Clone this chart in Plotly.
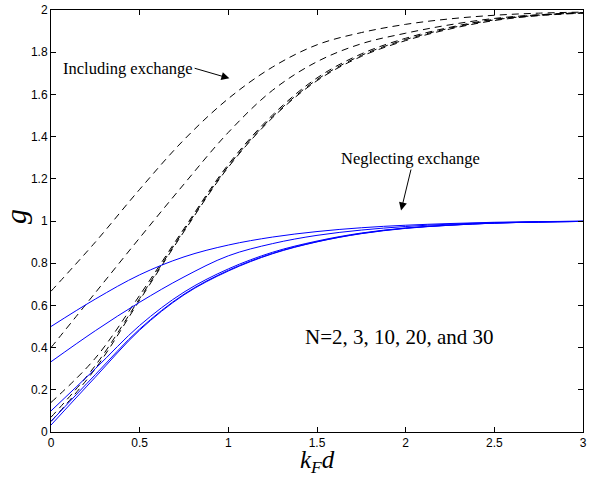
import plotly.graph_objects as go

# x sample positions (k_F d)
x_vals = [0, 0.25, 0.5, 0.75, 1.0, 1.25, 1.5, 1.75, 2.0, 2.25, 2.5, 2.75, 3.0]

# Including exchange (dashed), N = 2, 3, 10, 20, 30
inc_N2 = [0.667, 0.90, 1.15, 1.385, 1.58, 1.73, 1.835, 1.893, 1.932, 1.958, 1.975, 1.985, 1.99]
inc_N3 = [0.40, 0.66, 0.92, 1.175, 1.42, 1.62, 1.755, 1.84, 1.89, 1.93, 1.96, 1.977, 1.986]
inc_N10 = [0.14, 0.35, 0.648, 0.964, 1.268, 1.503, 1.678, 1.792, 1.866, 1.918, 1.956, 1.977, 1.988]
inc_N20 = [0.07, 0.315, 0.633, 0.956, 1.26, 1.495, 1.67, 1.785, 1.86, 1.914, 1.953, 1.975, 1.987]
inc_N30 = [0.05, 0.30, 0.625, 0.95, 1.255, 1.49, 1.665, 1.78, 1.855, 1.91, 1.95, 1.973, 1.985]

# Neglecting exchange (solid blue), N = 2, 3, 10, 20, 30
neg_N2 = [0.5, 0.63, 0.745, 0.83, 0.886, 0.924, 0.95, 0.968, 0.98, 0.988, 0.994, 0.997, 0.999]
neg_N3 = [0.333, 0.48, 0.615, 0.735, 0.835, 0.893, 0.932, 0.957, 0.974, 0.985, 0.992, 0.996, 0.999]
neg_N10 = [0.10, 0.30, 0.505, 0.663, 0.773, 0.852, 0.905, 0.943, 0.967, 0.981, 0.99, 0.995, 0.998]
neg_N20 = [0.05, 0.272, 0.488, 0.653, 0.766, 0.847, 0.902, 0.941, 0.966, 0.98, 0.99, 0.995, 0.998]
neg_N30 = [0.033, 0.26, 0.483, 0.65, 0.763, 0.845, 0.901, 0.94, 0.965, 0.98, 0.99, 0.995, 0.998]

x_ticks = [0, 0.5, 1, 1.5, 2, 2.5, 3]
x_tick_labels = ["0", "0.5", "1", "1.5", "2", "2.5", "3"]
y_ticks = [0, 0.2, 0.4, 0.6, 0.8, 1.0, 1.2, 1.4, 1.6, 1.8, 2.0]
y_tick_labels = ["0", "0.2", "0.4", "0.6", "0.8", "1", "1.2", "1.4", "1.6", "1.8", "2"]

fig = go.Figure()

for ys in [inc_N2, inc_N3, inc_N10, inc_N20, inc_N30]:
    fig.add_trace(go.Scatter(x=x_vals, y=ys, mode="lines",
                             line=dict(color="black", width=1, dash="7px,5px", shape="spline", smoothing=1.0),
                             showlegend=False, hoverinfo="skip"))
for ys in [neg_N2, neg_N3, neg_N10, neg_N20, neg_N30]:
    fig.add_trace(go.Scatter(x=x_vals, y=ys, mode="lines",
                             line=dict(color="rgb(0,0,255)", width=1, shape="spline", smoothing=1.0),
                             showlegend=False, hoverinfo="skip"))

serif = "Liberation Serif, Times New Roman, serif"
sans = "Liberation Sans, Arial, sans-serif"

annotations = [
    dict(x=1.006, y=1.676, xref="x", yref="y", ax=0.81, ay=1.724, axref="x", ayref="y",
         text="Including exchange", xanchor="right", yanchor="middle",
         showarrow=True, arrowhead=2, arrowsize=1.6, arrowwidth=1, arrowcolor="black",
         font=dict(family=serif, size=16.5, color="black")),
    dict(x=1.974, y=1.05, xref="x", yref="y", ax=2.03, ay=1.244, axref="x", ayref="y",
         text="Neglecting exchange", xanchor="center", yanchor="bottom",
         showarrow=True, arrowhead=2, arrowsize=1.6, arrowwidth=1, arrowcolor="black",
         font=dict(family=serif, size=16.5, color="black")),
    dict(x=1.419, y=0.452, xref="x", yref="y", text="N=2, 3, 10, 20, and 30", showarrow=False,
         xanchor="left", yanchor="middle", font=dict(family=serif, size=21, color="black")),
    dict(x=0.5, y=0, xref="paper", yref="paper", text="<i>k</i><sub><i>F</i></sub><i>d</i>",
         showarrow=False, xanchor="center", yanchor="middle", yshift=-29,
         font=dict(family=serif, size=25, color="black")),
    dict(x=0, y=0.5, xref="paper", yref="paper", text="<i>g</i>", textangle=-90,
         showarrow=False, xanchor="center", yanchor="middle", xshift=-36, yshift=4,
         font=dict(family=serif, size=30, color="black")),
]

axis_common = dict(showgrid=False, zeroline=False, showline=True, linecolor="black", linewidth=1,
                   mirror="ticks", ticks="inside", ticklen=5, tickcolor="black",
                   ticklabeloverflow="allow",
                   tickfont=dict(family=sans, size=12, color="black"))

fig.update_layout(
    width=590, height=478,
    margin=dict(l=51, r=3, t=10, b=46),
    paper_bgcolor="white", plot_bgcolor="white",
    xaxis=dict(range=[0, 3], tickvals=x_ticks, ticktext=x_tick_labels, **axis_common),
    yaxis=dict(range=[0, 2], tickvals=y_ticks, ticktext=y_tick_labels, **axis_common),
    annotations=annotations,
    showlegend=False,
)

fig.write_html("out.html")
